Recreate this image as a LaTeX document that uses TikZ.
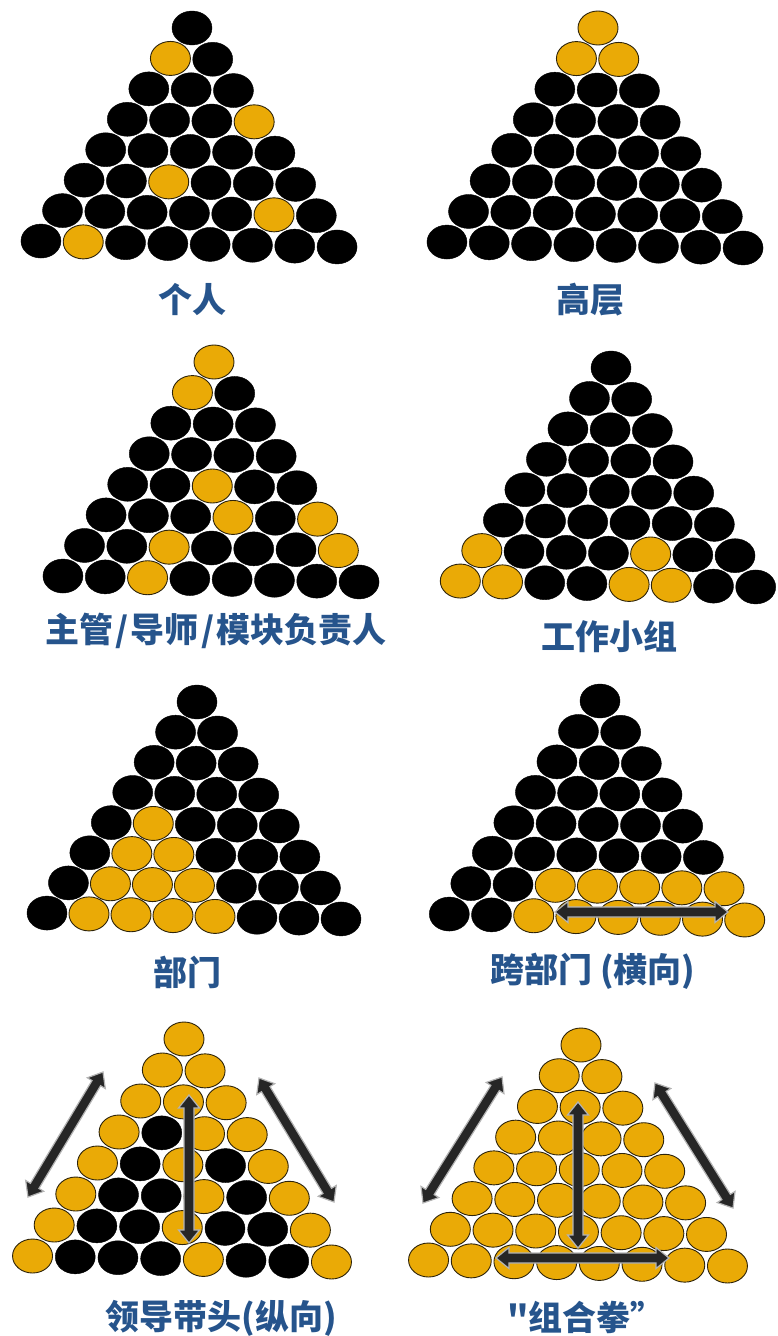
\documentclass[tikz,border=0pt]{standalone}
\usepackage{fontspec}
\newfontfamily\cjk{Noto Sans CJK SC}
\usetikzlibrary{shapes.geometric,calc}
\definecolor{gold}{RGB}{234,170,6}
\definecolor{goldline}{RGB}{45,35,10}
\definecolor{lblblue}{RGB}{38,84,140}
\definecolor{arrowdark}{RGB}{38,38,38}
\definecolor{arrowedge}{RGB}{180,180,180}
\tikzset{
  ball/.style={ellipse, minimum width=40pt, minimum height=34pt, inner sep=0pt, outer sep=0pt},
  K/.style={fill=black, draw=black, line width=0.4pt},
  Y/.style={fill=gold, draw=goldline, line width=0.9pt},
  lbl/.style={font=\cjk\bfseries\fontsize{34}{40}\selectfont, text=lblblue, inner sep=0pt},
  arrowbody/.style={fill=arrowdark, draw=arrowedge, line width=1.2pt, line join=miter},
}
\newcommand\pyramid[7]{%
  \foreach \row [count=\r from 0] in {#7} {
    \foreach \col [count=\p from 0] in \row {
      \pgfmathsetmacro\cx{#2+(#4-#2)*\r/7+(\p-\r/2)*#6}
      \pgfmathsetmacro\cy{#3+(#5-#3)*\r/7+(\p-\r/2)*#6*0.02}
      \node[ball,\col] (#1-\r-\p) at (\cx,\cy) {};
    }
  }
}
\newcommand\blockarrow[2]{%
  \coordinate (#1h1) at ($(#1)!13pt!(#2)$);
  \coordinate (#1h2) at ($(#2)!13pt!(#1)$);
  \filldraw[arrowbody] (#1) -- ($(#1h1)!10.5pt!90:(#2)$) -- ($(#1h1)!5pt!90:(#2)$)
    -- ($(#1h2)!5pt!-90:(#1)$) -- ($(#1h2)!10.5pt!-90:(#1)$) -- (#2)
    -- ($(#1h2)!10.5pt!90:(#1)$) -- ($(#1h2)!5pt!90:(#1)$)
    -- ($(#1h1)!5pt!-90:(#2)$) -- ($(#1h1)!10.5pt!-90:(#2)$) -- cycle;
}
\begin{document}
\begin{tikzpicture}[x=1pt,y=-1pt]
\useasboundingbox (0,0) rectangle (777,1336);
% 1 个人
\pyramid{P1}{192}{28}{189}{244}{42.3}{{K},{Y,K},{K,K,K},{K,K,K,Y},{K,K,K,K,K},{K,K,Y,K,K,K},{K,K,K,K,K,Y,K},{K,Y,K,K,K,K,K,K}}
% 2 高层
\pyramid{P2}{598}{28}{595}{245}{42.3}{{Y},{Y,Y},{K,K,K},{K,K,K,K},{K,K,K,K,K},{K,K,K,K,K,K},{K,K,K,K,K,K,K},{K,K,K,K,K,K,K,K}}
% 3 主管
\pyramid{P3}{214}{362}{211}{579}{42.3}{{Y},{Y,K},{K,K,K},{K,K,K,K},{K,K,Y,K,K},{K,K,K,Y,K,Y},{K,K,Y,K,K,K,Y},{K,K,Y,K,K,K,K,K}}
% 4 工作小组
\pyramid{P4}{611}{368}{608}{584}{42.2}{{K},{K,K},{K,K,K},{K,K,K,K},{K,K,K,K,K},{K,K,K,K,K,K},{Y,K,K,K,Y,K,K},{Y,Y,K,K,Y,Y,K,K}}
% 5 部门
\pyramid{P5}{197}{702}{194}{916}{42.0}{{K},{K,K},{K,K,K},{K,K,K,K},{K,Y,K,K,K},{K,Y,Y,K,K,K},{K,Y,Y,Y,K,K,K},{K,Y,Y,Y,Y,K,K,K}}
% 6 跨部门
\pyramid{P6}{600}{701}{597}{917}{42.2}{{K},{K,K},{K,K,K},{K,K,K,K},{K,K,K,K,K},{K,K,K,K,K,K},{K,K,Y,Y,Y,Y,Y},{K,K,Y,Y,Y,Y,Y,Y}}
% 7 领导带头
\pyramid{P7}{184}{1039}{182}{1259}{42.7}{{Y},{Y,Y},{Y,Y,Y},{Y,K,Y,Y},{Y,K,Y,K,Y},{Y,K,K,Y,K,Y},{Y,K,K,Y,K,K,Y},{Y,K,K,K,Y,K,K,Y}}
% 8 组合拳
\pyramid{P8}{581}{1045}{578}{1263}{42.7}{{Y},{Y,Y},{Y,Y,Y},{Y,Y,Y,Y},{Y,Y,Y,Y,Y},{Y,Y,Y,Y,Y,Y},{Y,Y,Y,Y,Y,Y,Y},{Y,Y,Y,Y,Y,Y,Y,Y}}
% arrows
\coordinate (a6h1) at (555,912); \coordinate (a6h2) at (728,912);
\blockarrow{a6h1}{a6h2}
\coordinate (a7v1) at (189,1095); \coordinate (a7v2) at (189,1243);
\blockarrow{a7v1}{a7v2}
\coordinate (a7l1) at (103,1072); \coordinate (a7l2) at (28,1197);
\blockarrow{a7l1}{a7l2}
\coordinate (a7r1) at (259,1078); \coordinate (a7r2) at (334,1202);
\blockarrow{a7r1}{a7r2}
\coordinate (a8v1) at (578,1102); \coordinate (a8v2) at (578,1248);
\blockarrow{a8v1}{a8v2}
\coordinate (a8h1) at (496,1258); \coordinate (a8h2) at (669,1258);
\blockarrow{a8h1}{a8h2}
\coordinate (a8l1) at (502,1077); \coordinate (a8l2) at (423,1203);
\blockarrow{a8l1}{a8l2}
\coordinate (a8r1) at (655,1083); \coordinate (a8r2) at (733,1208);
\blockarrow{a8r1}{a8r2}
% labels
\node[lbl] (L1) at (192,300) {个人};
\node[lbl] (L2) at (590,300) {高层};
\node[lbl] (L3) at (216,631) {主管\kern0.06em/\kern0.06em导师\kern0.06em/\kern0.06em模块负责人};
\node[lbl] (L4) at (609,636) {工作小组};
\node[lbl] (L5) at (187,972) {部门};
\node[lbl] (L6) at (593,971) {跨部门 (横向)};
\node[lbl] (L7) at (221,1318) {领导带头(纵向)};
\node[lbl] (L8) at (586,1317) {"组合拳”};
\end{tikzpicture}
\end{document}
